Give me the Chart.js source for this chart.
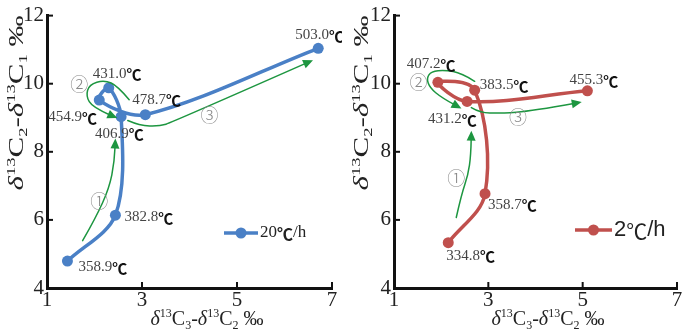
<!DOCTYPE html>
<html><head><meta charset="utf-8">
<script src="https://cdn.jsdelivr.net/npm/chart.js@4.4.0/dist/chart.umd.min.js"></script>
<style>
html,body{margin:0;padding:0;background:#fff;}
#wrap{position:relative;width:685px;height:331px;overflow:hidden;background:#fff;}
.p{position:absolute;top:0;height:331px;width:342px;}
</style></head><body>
<div id="wrap">
<div class="p" style="left:0"><canvas id="c1" width="342" height="331"></canvas></div>
<div class="p" style="left:343px"><canvas id="c2" width="342" height="331"></canvas></div>
</div>
<script>
// ---- data ----
const xTicks = [1, 3, 5, 7];
const yTicks = [4, 6, 8, 10, 12];

const series20Label = '20℃/h';
const temps20 = ['358.9', '382.8', '406.9', '431.0', '454.9', '478.7', '503.0'];
const x20 = [1.43, 2.44, 2.56, 2.30, 2.10, 3.07, 6.71];
const y20 = [4.79, 6.14, 9.03, 9.88, 9.52, 9.09, 11.04];

const series2Label = '2℃/h';
const temps2 = ['334.8', '358.7', '383.5', '407.2', '431.2', '455.3'];
const x2 = [2.15, 2.93, 2.71, 1.93, 2.55, 5.10];
const y2 = [5.33, 6.77, 9.81, 10.04, 9.48, 9.79];

// trend arrows (value coordinates)
const arrow20_1 = [[1.75,5.39],[2.03,6.07],[2.31,6.94],[2.42,7.71],[2.44,8.39]];
const arrow20_2 = [[2.73,9.53],[2.49,9.93],[2.21,10.11],[1.89,9.98],[1.82,9.64],[1.96,9.30],[2.48,8.99]];
const arrow20_3 = [[2.70,8.92],[2.95,8.77],[3.37,8.75],[3.64,8.87],[6.60,10.69]];
const arrow2_1 = [[2.32,6.07],[2.43,6.74],[2.57,7.32],[2.63,7.90],[2.64,8.62]];
const arrow2_2 = [[2.71,10.07],[2.43,10.31],[2.08,10.40],[1.79,10.36],[1.69,10.16],[1.76,9.88],[2.01,9.59],[2.43,9.27]];
const arrow2_3 = [[2.64,9.30],[2.82,9.15],[3.24,9.13],[3.95,9.20],[4.98,9.46]];

const stageMarks = ['①', '②', '③'];
const stage20Pos = [[2.10,6.55],[1.68,10.0],[4.42,9.07]];
const stage2Pos = [[2.32,7.23],[1.52,10.04],[3.63,9.01]];

// ---- styles ----
const BLUE = '#4a80c6', RED = '#c0504d', GREEN = '#1d9640';
const label20Off = [[11,6],[9,2],[-26,17],[-16,-14],[-51,17],[-13,-15],[-23,-13]];
const label2Off = [[-2,13],[3,11],[5,-5],[-31,-18],[-39,18],[-18,-11]];

function drawTemp(ctx, num, x, cy) {
  ctx.textBaseline = 'middle'; ctx.textAlign = 'left';
  ctx.font = '15px "Liberation Serif"'; ctx.fillStyle = '#444';
  ctx.fillText(num, x, cy);
  const w = ctx.measureText(num).width;
  ctx.font = 'bold 15px "Noto Sans CJK SC"'; ctx.fillStyle = '#111';
  ctx.fillText('℃', x + w, cy + 1);
}

function drawRich(ctx, parts, cx, base, size) {
  const fonts = {
    n: size + 'px "Liberation Serif"',
    i: 'italic ' + size + 'px "Liberation Serif"',
    s: Math.round(size * 0.6) + 'px "Liberation Serif"'
  };
  const fk = k => (k === 'i' ? 'i' : (k === 'n' ? 'n' : 's'));
  let w = 0;
  parts.forEach(p => { ctx.font = fonts[fk(p[1])]; p.w = ctx.measureText(p[0]).width; w += p.w; });
  let x = cx - w / 2;
  ctx.textAlign = 'left'; ctx.textBaseline = 'alphabetic'; ctx.fillStyle = '#222';
  parts.forEach(p => {
    const k = p[1];
    ctx.font = fonts[fk(k)];
    const dy = k === 'sup' ? -size * 0.42 : (k === 'sub' ? size * 0.22 : 0);
    ctx.fillText(p[0], x, base + dy);
    x += p.w;
  });
}

function smoothPath(ctx, pts) {
  ctx.beginPath();
  ctx.moveTo(pts[0][0], pts[0][1]);
  if (pts.length === 2) { ctx.lineTo(pts[1][0], pts[1][1]); return; }
  for (let i = 1; i < pts.length - 2; i++) {
    const mx = (pts[i][0] + pts[i+1][0]) / 2, my = (pts[i][1] + pts[i+1][1]) / 2;
    ctx.quadraticCurveTo(pts[i][0], pts[i][1], mx, my);
  }
  const n = pts.length;
  ctx.quadraticCurveTo(pts[n-2][0], pts[n-2][1], pts[n-1][0], pts[n-1][1]);
}

function drawArrow(ctx, xs, ys, arr) {
  const pts = arr.map(p => [xs.getPixelForValue(p[0]), ys.getPixelForValue(p[1])]);
  const n = pts.length;
  const tip = pts[n-1], prev = pts[n-2];
  const ang = Math.atan2(tip[1] - prev[1], tip[0] - prev[0]);
  const L = 10, H = 4.5;
  const body = pts.slice(); body[n-1] = [tip[0] - Math.cos(ang) * L * 0.8, tip[1] - Math.sin(ang) * L * 0.8];
  ctx.save();
  ctx.strokeStyle = GREEN; ctx.lineWidth = 1.5; ctx.lineCap = 'round';
  smoothPath(ctx, body); ctx.stroke();
  ctx.fillStyle = GREEN;
  ctx.beginPath();
  ctx.moveTo(tip[0], tip[1]);
  ctx.lineTo(tip[0] - Math.cos(ang) * L + Math.sin(ang) * H, tip[1] - Math.sin(ang) * L - Math.cos(ang) * H);
  ctx.lineTo(tip[0] - Math.cos(ang) * L - Math.sin(ang) * H, tip[1] - Math.sin(ang) * L + Math.cos(ang) * H);
  ctx.closePath(); ctx.fill();
  ctx.restore();
}

const xTitle = [['δ','i'],['13','sup'],['C','n'],['3','sub'],['-','n'],['δ','i'],['13','sup'],['C','n'],['2','sub'],[' ‰','n']];
const yTitle = [['δ','i'],['13','sup'],['C','n'],['2','sub'],['-','n'],['δ','i'],['13','sup'],['C','n'],['1','sub'],[' ‰','n']];

function makeChart(id, c) {
  const deco = {
    id: 'deco' + id,
    afterDraw(chart) {
      const ctx = chart.ctx, xs = chart.scales.x, ys = chart.scales.y, a = chart.chartArea;
      ctx.save();
      // inward ticks
      ctx.strokeStyle = '#111'; ctx.lineWidth = 2;
      yTicks.forEach(v => { const y = ys.getPixelForValue(v); ctx.beginPath(); ctx.moveTo(a.left, y); ctx.lineTo(a.left + 6, y); ctx.stroke(); });
      xTicks.forEach(v => { const x = xs.getPixelForValue(v); ctx.beginPath(); ctx.moveTo(x, a.bottom); ctx.lineTo(x, a.bottom - 6); ctx.stroke(); });
      // arrows
      c.arrows.forEach(ar => drawArrow(ctx, xs, ys, ar));
      // stage marks
      ctx.font = '300 18px "Noto Sans CJK SC"'; ctx.fillStyle = '#888'; ctx.textAlign = 'center'; ctx.textBaseline = 'middle';
      stageMarks.forEach((m, i) => ctx.fillText(m, xs.getPixelForValue(c.stages[i][0]), ys.getPixelForValue(c.stages[i][1])));
      // temperature labels
      c.temps.forEach((t, i) => {
        const px = xs.getPixelForValue(c.xs[i]), py = ys.getPixelForValue(c.ys[i]);
        drawTemp(ctx, t, px + c.off[i][0], py + c.off[i][1]);
      });
      // legend
      const lg = c.legend;
      ctx.strokeStyle = c.color; ctx.lineWidth = 3.5;
      ctx.beginPath(); ctx.moveTo(lg.x0, lg.y); ctx.lineTo(lg.x1, lg.y); ctx.stroke();
      ctx.fillStyle = c.color; ctx.beginPath(); ctx.arc((lg.x0 + lg.x1) / 2, lg.y, 5.5, 0, Math.PI * 2); ctx.fill();
      const parts = c.label.split('℃');
      ctx.textAlign = 'left'; ctx.textBaseline = 'middle'; ctx.fillStyle = '#222';
      let tx = lg.x1 + 2;
      ctx.font = lg.font; ctx.fillText(parts[0], tx, lg.y); tx += ctx.measureText(parts[0]).width;
      ctx.font = lg.cfont; ctx.fillText('℃', tx, lg.y + 1); tx += ctx.measureText('℃').width;
      ctx.font = lg.font; ctx.fillText(parts[1], tx, lg.y);
      // axis titles
      drawRich(ctx, xTitle, c.xTitle[0], c.xTitle[1], 20);
      ctx.save();
      ctx.translate(c.yTitle[0], c.yTitle[1]); ctx.rotate(-Math.PI / 2); ctx.scale(1.55, 1);
      drawRich(ctx, yTitle, 0, 7, 20);
      ctx.restore();
      ctx.restore();
    }
  };
  return new Chart(document.getElementById(id), {
    type: 'scatter',
    data: { datasets: [{
      label: c.label,
      data: c.xs.map((x, i) => ({ x: x, y: c.ys[i] })),
      showLine: true, borderColor: c.color, backgroundColor: c.color,
      borderWidth: 3.5, pointRadius: 5.5, pointHoverRadius: 5.5, pointBorderWidth: 0,
      tension: c.tension
    }]},
    options: {
      responsive: false, animation: false,
      layout: { padding: { left: 0, right: c.padRight, top: 12, bottom: 0 } },
      plugins: { legend: { display: false }, tooltip: { enabled: false } },
      scales: {
        x: {
          type: 'linear', min: 1, max: 7,
          afterBuildTicks: s => { s.ticks = xTicks.map(v => ({ value: v })); },
          afterFit: s => { s.height = 43; },
          grid: { display: false, drawTicks: false },
          border: { display: true, color: '#111', width: 3 },
          ticks: { font: { family: 'Liberation Serif', size: 21 }, color: '#222', padding: 0, maxRotation: 0, autoSkip: false }
        },
        y: {
          type: 'linear', min: 4, max: 12,
          afterBuildTicks: s => { s.ticks = yTicks.map(v => ({ value: v })); },
          afterFit: s => { s.width = c.left; },
          grid: { display: false, drawTicks: false },
          border: { display: true, color: '#111', width: 3 },
          ticks: { font: { family: 'Liberation Serif', size: 21 }, color: '#222', padding: 3, autoSkip: false }
        }
      }
    },
    plugins: [deco]
  });
}

makeChart('c1', {
  label: series20Label, temps: temps20, xs: x20, ys: y20, color: BLUE, tension: 0.32,
  off: label20Off, arrows: [arrow20_1, arrow20_2, arrow20_3], stages: stage20Pos,
  left: 47, padRight: 10,
  legend: { x0: 224, x1: 258, y: 233, font: '17px "Liberation Serif"', cfont: 'bold 16px "Noto Sans CJK SC"' },
  xTitle: [207, 325], yTitle: [16, 103]
});
makeChart('c2', {
  label: series2Label, temps: temps2, xs: x2, ys: y2, color: RED, tension: 0.35,
  off: label2Off, arrows: [arrow2_1, arrow2_2, arrow2_3], stages: stage2Pos,
  left: 51, padRight: 8,
  legend: { x0: 232, x1: 269, y: 230, font: '22px "Liberation Sans"', cfont: '21px "Noto Sans CJK SC"' },
  xTitle: [205, 325], yTitle: [18, 103]
});
</script>
</body></html>
